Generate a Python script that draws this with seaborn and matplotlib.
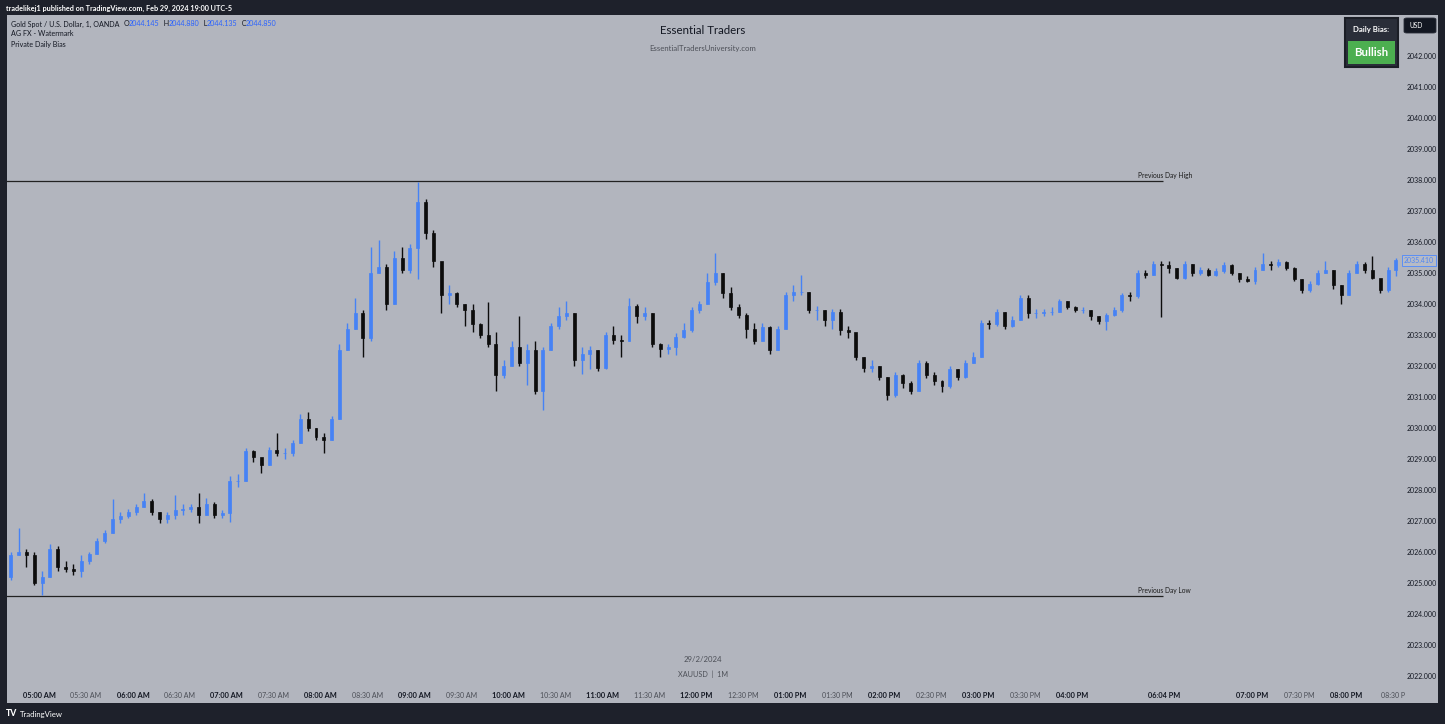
import numpy as np
import pandas as pd
import matplotlib
matplotlib.use("Agg")
import matplotlib.pyplot as plt
import seaborn as sns
from matplotlib.patches import Rectangle, FancyBboxPatch
from matplotlib.transforms import blended_transform_factory

# ---------------- data (XAUUSD, 29/2/2024, read as 5-minute candles) ----------------
bar_minutes = 5
session1_start = "04:40"
session1_open = 2025.2
session1_close = [
    2025.9, 2026.0, 2025.9, 2025.0, 2025.2, 2026.1, 2025.5, 2025.45, 2025.4, 2025.7,
    2025.95, 2026.35, 2026.6, 2027.05, 2027.15, 2027.3, 2027.45, 2027.65, 2027.3, 2027.05,
    2027.2, 2027.35, 2027.4, 2027.45, 2027.2, 2027.55, 2027.2, 2027.25, 2028.3, 2028.3,
    2029.25, 2029.05, 2028.8, 2029.3, 2029.2, 2029.2, 2029.5, 2030.3, 2030.0, 2029.7,
    2029.6, 2030.3, 2032.5, 2033.2, 2033.7, 2032.9, 2035.0, 2035.2, 2034.0, 2035.5,
    2035.1, 2035.8, 2037.3, 2036.3, 2035.4, 2034.3, 2034.35, 2034.0, 2033.8, 2033.35,
    2033.0, 2032.7, 2031.7, 2032.0, 2032.6, 2032.1, 2032.5, 2031.2, 2032.5, 2033.3,
    2033.6, 2033.7, 2032.2, 2032.4, 2032.5, 2031.95, 2033.0, 2032.85, 2032.8, 2033.95,
    2033.6, 2033.7, 2032.7, 2032.55, 2032.6, 2032.95, 2033.15, 2033.8, 2034.0, 2034.7,
    2035.0, 2034.35, 2033.9, 2033.65, 2033.2, 2032.8, 2033.25, 2032.5, 2033.2, 2034.3,
    2034.4, 2034.4, 2033.8, 2033.8, 2033.5, 2033.75, 2033.15, 2033.1, 2032.3, 2031.95,
    2032.0, 2031.65, 2031.05, 2031.7, 2031.45, 2031.2, 2032.1, 2031.7, 2031.5, 2031.35,
    2031.9, 2031.65, 2032.1, 2032.3, 2033.4, 2033.35, 2033.75, 2033.3, 2033.5, 2034.2,
    2033.7, 2033.7, 2033.75, 2033.75, 2034.1, 2033.9, 2033.8, 2033.8, 2033.6, 2033.45,
    2033.65, 2033.8, 2034.3, 2034.25, 2035.0, 2034.95, 2035.3,
]
session1_high = [
    2026.0, 2026.76, 2026.1, 2026.0, 2025.4, 2026.25, 2026.2, 2025.7, 2025.6, 2025.9,
    2026.0, 2026.45, 2026.7, 2027.7, 2027.3, 2027.4, 2027.55, 2027.9, 2027.7, 2027.3,
    2027.3, 2027.84, 2027.55, 2027.55, 2027.9, 2027.75, 2027.6, 2027.35, 2028.45, 2028.5,
    2029.35, 2029.3, 2029.0, 2029.4, 2029.85, 2029.35, 2029.6, 2030.45, 2030.5, 2030.0,
    2029.85, 2030.4, 2032.7, 2033.4, 2034.2, 2033.8, 2035.85, 2036.06, 2035.3, 2035.7,
    2035.85, 2035.95, 2037.95, 2037.4, 2036.4, 2035.3, 2034.6, 2034.4, 2034.0, 2034.0,
    2033.4, 2034.07, 2033.1, 2032.2, 2032.8, 2033.6, 2032.7, 2032.8, 2032.6, 2033.4,
    2033.9, 2034.1, 2033.7, 2032.6, 2032.65, 2032.5, 2033.1, 2033.3, 2033.0, 2034.18,
    2034.0, 2033.9, 2033.7, 2032.75, 2032.7, 2033.05, 2033.4, 2033.9, 2034.1, 2035.0,
    2035.63, 2035.0, 2034.55, 2034.0, 2033.7, 2033.4, 2033.4, 2033.3, 2033.3, 2034.4,
    2034.6, 2034.95, 2034.4, 2033.95, 2033.8, 2033.85, 2033.85, 2033.3, 2033.0, 2032.3,
    2032.2, 2032.0, 2031.65, 2031.8, 2031.75, 2031.5, 2032.2, 2032.15, 2031.8, 2031.55,
    2032.0, 2031.9, 2032.2, 2032.45, 2033.5, 2033.5, 2033.85, 2033.75, 2033.6, 2034.3,
    2034.3, 2033.85, 2033.85, 2033.9, 2034.15, 2034.1, 2033.95, 2033.9, 2033.8, 2033.6,
    2033.7, 2033.9, 2034.35, 2034.4, 2035.1, 2035.1, 2035.4,
]
session1_low = [
    2025.1, 2025.9, 2025.5, 2024.95, 2024.61, 2025.2, 2025.4, 2025.35, 2025.25, 2025.2,
    2025.6, 2025.95, 2026.3, 2026.6, 2026.95, 2027.1, 2027.2, 2027.45, 2027.2, 2026.95,
    2026.95, 2027.05, 2027.2, 2027.3, 2026.95, 2027.2, 2027.1, 2027.1, 2026.98, 2028.1,
    2028.3, 2028.9, 2028.55, 2028.8, 2029.1, 2029.0, 2029.1, 2029.5, 2029.9, 2029.6,
    2029.2, 2029.6, 2030.3, 2032.5, 2033.2, 2032.3, 2032.8, 2035.0, 2033.8, 2034.0,
    2035.0, 2035.0, 2034.8, 2036.1, 2035.2, 2033.7, 2034.0, 2033.9, 2033.3, 2033.1,
    2032.9, 2032.6, 2031.2, 2031.6, 2032.0, 2032.0, 2031.4, 2031.1, 2030.58, 2032.5,
    2033.2, 2033.5, 2032.0, 2031.75, 2031.9, 2031.85, 2031.9, 2032.7, 2032.3, 2032.8,
    2033.4, 2033.5, 2032.6, 2032.3, 2032.4, 2032.35, 2032.9, 2033.1, 2033.7, 2034.0,
    2034.6, 2034.2, 2033.8, 2033.55, 2032.9, 2032.7, 2032.8, 2032.4, 2032.5, 2033.2,
    2034.1, 2034.3, 2033.7, 2033.5, 2033.3, 2033.2, 2033.0, 2032.9, 2032.2, 2031.8,
    2031.8, 2031.55, 2030.9, 2031.0, 2031.3, 2031.1, 2031.2, 2031.6, 2031.4, 2031.15,
    2031.3, 2031.55, 2031.6, 2032.1, 2032.3, 2033.2, 2033.3, 2033.2, 2033.25, 2033.5,
    2033.55, 2033.55, 2033.6, 2033.65, 2033.75, 2033.85, 2033.75, 2033.7, 2033.5, 2033.35,
    2033.15, 2033.6, 2033.75, 2034.1, 2034.2, 2034.85, 2034.95,
]

session2_start = "18:00"
session2_open = 2035.3
session2_close = [
    2035.25, 2035.15, 2034.85, 2035.3, 2035.0, 2035.1, 2034.95, 2035.05, 2035.25, 2035.0,
    2034.8, 2034.75, 2035.1, 2035.3, 2035.25, 2035.35, 2035.15, 2034.8, 2034.45, 2034.65,
    2035.0, 2035.1, 2034.6, 2034.3, 2035.0, 2035.3, 2035.1, 2034.85, 2034.45, 2035.1,
    2035.41,
]
session2_high = [
    2035.4, 2035.4, 2035.15, 2035.4, 2035.3, 2035.2, 2035.15, 2035.15, 2035.35, 2035.3,
    2035.0, 2034.9, 2035.2, 2035.65, 2035.4, 2035.45, 2035.4, 2035.2, 2034.8, 2034.75,
    2035.1, 2035.4, 2035.1, 2034.6, 2035.1, 2035.4, 2035.35, 2035.55, 2034.8, 2035.2,
    2035.5,
]
session2_low = [
    2033.59, 2035.0, 2034.8, 2034.8, 2034.9, 2034.95, 2034.9, 2034.9, 2035.0, 2034.95,
    2034.7, 2034.7, 2034.65, 2035.1, 2035.1, 2035.2, 2035.1, 2034.75, 2034.35, 2034.4,
    2034.6, 2035.0, 2034.5, 2034.0, 2034.3, 2035.0, 2035.0, 2034.8, 2034.35, 2034.4,
    2034.9,
]

prev_day_high = 2037.97
prev_day_low = 2024.58
last_price = 2035.41

time_ticks = ["05:00", "05:30", "06:00", "06:30", "07:00", "07:30", "08:00", "08:30",
              "09:00", "09:30", "10:00", "10:30", "11:00", "11:30", "12:00", "12:30",
              "13:00", "13:30", "14:00", "14:30", "15:00", "15:30", "16:00", "18:04",
              "19:00", "19:30", "20:00", "20:30"]
time_tick_labels = ["05:00 AM", "05:30 AM", "06:00 AM", "06:30 AM", "07:00 AM", "07:30 AM",
                    "08:00 AM", "08:30 AM", "09:00 AM", "09:30 AM", "10:00 AM", "10:30 AM",
                    "11:00 AM", "11:30 AM", "12:00 PM", "12:30 PM", "01:00 PM", "01:30 PM",
                    "02:00 PM", "02:30 PM", "03:00 PM", "03:30 PM", "04:00 PM", "06:04 PM",
                    "07:00 PM", "07:30 PM", "08:00 PM", "08:30 P"]
price_ticks = [2022, 2023, 2024, 2025, 2026, 2027, 2028, 2029, 2030, 2031, 2032,
               2033, 2034, 2035, 2036, 2037, 2038, 2039, 2040, 2041, 2042]

# ---------------- helpers ----------------
def pos_of(hhmm):
    """Position on the bar axis (minutes after 05:00, closed hour removed)."""
    h, m = map(int, hhmm.split(":"))
    mins = h * 60 + m - 300
    if mins >= 720:
        mins -= 65
    return mins


def session_frame(start, first_open, closes, highs, lows):
    p0 = pos_of(start)
    n = len(closes)
    opens = [first_open] + list(closes[:-1])
    return pd.DataFrame({
        "pos": [p0 + bar_minutes * i for i in range(n)],
        "open": opens, "high": highs, "low": lows, "close": closes,
    })


df = pd.concat([
    session_frame(session1_start, session1_open, session1_close, session1_high, session1_low),
    session_frame(session2_start, session2_open, session2_close, session2_high, session2_low),
], ignore_index=True)
df["x"] = df["pos"] + 2
df["bull"] = df["close"] >= df["open"]

# ---------------- style ----------------
W, H = 1445, 724
sns.set_theme(style="white")
plt.rcParams['font.family'] = ['Lato', 'DejaVu Sans']

DARK = "#1e212b"
PANEL = "#b2b5be"
TXT = "#131722"
BLUE = "#4682f5"
BEAR = "#0c0c0c"

fig = plt.figure(figsize=(W / 100, H / 100), dpi=100, facecolor=DARK)


def fx(px):
    return px / W


def fy(py):
    return 1 - py / H


fig.add_artist(Rectangle((fx(7), fy(703)), fx(1438) - fx(7), fy(15) - fy(703),
                         transform=fig.transFigure, facecolor=PANEL, edgecolor="none", zorder=-5))

ax = fig.add_axes([fx(7), fy(686), fx(1400) - fx(7), fy(15) - fy(686)])
ax.set_facecolor(PANEL)
for s in ax.spines.values():
    s.set_visible(False)

# candles
colors = np.where(df["bull"], BLUE, BEAR)
ax.vlines(df["x"], df["low"], df["high"], colors=colors, linewidth=1.0, zorder=3)
ax.bar(df["x"], df["close"] - df["open"], bottom=df["open"], width=1.9,
       color=colors, edgecolor=colors, linewidth=0.5, zorder=4)

# previous day levels
line_end = pos_of("18:03")
ax.hlines([prev_day_high, prev_day_low], -30, line_end, colors="#222222", linewidth=0.9, zorder=2)
ax.text(pos_of("16:42"), prev_day_high + 0.06, "Previous Day High", fontsize=4.8,
        color="#1a1a1a", va="bottom", ha="left")
ax.text(pos_of("16:42"), prev_day_low + 0.06, "Previous Day Low", fontsize=4.8,
        color="#1a1a1a", va="bottom", ha="left")

ax.set_xlim(-20.45, 869.65)
ax.set_ylim(2021.677, 2043.323)

ax.yaxis.tick_right()
ax.set_yticks(price_ticks)
ax.set_yticklabels([f"{v:.3f}" for v in price_ticks])
ax.tick_params(axis="y", length=0, pad=5, labelsize=5, labelcolor=TXT)

ax.set_xticks([pos_of(t) for t in time_ticks])
ax.set_xticklabels(time_tick_labels)
ax.tick_params(axis="x", length=0, pad=4, labelsize=5.3)
for t, lab in zip(time_ticks, ax.get_xticklabels()):
    if t.endswith(":00") or t == "18:04":
        lab.set_fontweight("bold")
        lab.set_color(TXT)
    else:
        lab.set_color("#4a4d55")
        lab.set_fontsize(5)
ax.grid(False)

# last price label
tr = blended_transform_factory(fig.transFigure, ax.transData)
ax.text(fx(1419), last_price, f"{last_price:.3f}", transform=tr, ha="center", va="center",
        fontsize=5, color="#4f86f5", clip_on=False,
        bbox=dict(boxstyle="square,pad=0.25", fc="#b7bbc5", ec="#5b8ef5", lw=0.7))

# center watermark texts
fig.text(fx(703), fy(31), "Essential Traders", ha="center", va="center", fontsize=8.3, color=TXT)
fig.text(fx(703), fy(48), "EssentialTradersUniversity.com", ha="center", va="center",
         fontsize=5.6, color="#4d5058")
fig.text(fx(703), fy(660), "29/2/2024", ha="center", va="center", fontsize=5.6, color="#4d5058")
fig.text(fx(703), fy(674), "XAUUSD  |  1M", ha="center", va="center", fontsize=5.2, color="#4d5058")

# top bar
fig.text(fx(6), fy(8), "tradelikej1 published on TradingView.com, Feb 29, 2024 19:00 UTC-5",
         ha="left", va="center", fontsize=5.2, color="white", fontweight="bold")

# legend (top-left) built piece by piece
renderer = fig.canvas.get_renderer()
pieces = [("Gold Spot / U.S. Dollar, 1, OANDA  ", TXT), ("O", TXT), ("2044.145", "#2962ff"),
          ("  H", TXT), ("2044.880", "#2962ff"), ("  L", TXT), ("2044.135", "#2962ff"),
          ("  C", TXT), ("2044.850", "#2962ff")]
xcur = fx(11)
for s, c in pieces:
    t = fig.text(xcur, fy(24), s, ha="left", va="center", fontsize=5.1, color=c)
    bb = t.get_window_extent(renderer=renderer)
    xcur += bb.width / W
fig.text(fx(11), fy(34), "AG FX - Watermark", ha="left", va="center", fontsize=5.1, color=TXT)
fig.text(fx(11), fy(44), "Private Daily Bias", ha="left", va="center", fontsize=5.1, color=TXT)

# Daily bias panel
fig.add_artist(Rectangle((fx(1345), fy(67)), fx(1398) - fx(1345), fy(18) - fy(67),
                         transform=fig.transFigure, facecolor="#2a2e39", edgecolor="#1b1e26",
                         linewidth=1.5, zorder=5))
fig.add_artist(Rectangle((fx(1348), fy(64)), fx(1395) - fx(1348), fy(41) - fy(64),
                         transform=fig.transFigure, facecolor="#4caf50", edgecolor="none", zorder=6))
fig.text(fx(1371.5), fy(29.5), "Daily Bias:", ha="center", va="center", fontsize=5.6,
         color="white", fontweight="bold", zorder=7)
fig.text(fx(1371.5), fy(52.5), "Bullish", ha="center", va="center", fontsize=8.2,
         color="white", fontweight="bold", zorder=7)

# USD box
fig.add_artist(FancyBboxPatch((fx(1404), fy(33)), fx(1436) - fx(1404), fy(18) - fy(33),
                              boxstyle="round,pad=0.0,rounding_size=0.002",
                              transform=fig.transFigure, facecolor="#131722", edgecolor="#2a2e39",
                              linewidth=0.6, zorder=5))
fig.text(fx(1409), fy(25.5), "USD", ha="left", va="center", fontsize=4.8, color="white", zorder=7)

# bottom bar logo
fig.text(fx(6), fy(714), "TV", ha="left", va="center", fontsize=6.2, color="white",
         fontweight="black")
fig.text(fx(20), fy(714), "TradingView", ha="left", va="center", fontsize=5.6, color="white")

fig.savefig("out.png", dpi=100, facecolor=DARK)
